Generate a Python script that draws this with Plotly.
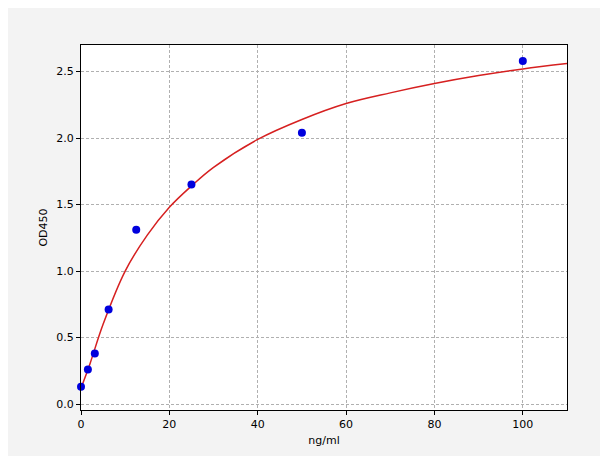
import plotly.graph_objects as go

# standard points
conc = [0, 1.56, 3.125, 6.25, 12.5, 25, 50, 100]
od = [0.13, 0.26, 0.38, 0.71, 1.31, 1.65, 2.04, 2.58]

# fitted curve
curve_x = [0, 2, 5, 10, 15, 20, 25, 30, 40, 50, 60, 70, 80, 90, 100, 110]
curve_y = [0.12, 0.30, 0.60, 1.00, 1.27, 1.48, 1.64, 1.78, 1.99, 2.14, 2.26, 2.34, 2.41, 2.47, 2.52, 2.56]

fig = go.Figure()
fig.add_trace(go.Scatter(
    x=curve_x, y=curve_y, mode='lines',
    line=dict(color='#d62020', width=1.5, shape='spline', smoothing=1.0),
))
fig.add_trace(go.Scatter(
    x=conc, y=od, mode='markers',
    marker=dict(color='#0000dd', size=8), cliponaxis=False,
))

axis = dict(
    showline=True, linecolor='black', linewidth=1, mirror=True,
    showgrid=True, gridcolor='#b0b0b0', griddash='3px,2px', gridwidth=1,
    ticks='outside', ticklen=4, tickcolor='black', zeroline=False,
    tickfont=dict(size=11, color='black'), automargin=False,
)
fig.update_layout(
    width=608, height=456,
    paper_bgcolor='#f3f3f3', plot_bgcolor='white',
    margin=dict(l=73, r=49, t=37, b=54),
    showlegend=False,
    font=dict(family='DejaVu Sans', color='black'),
    xaxis=dict(axis, range=[0, 110], dtick=20,
               title=dict(text='ng/ml', font=dict(size=11), standoff=6)),
    yaxis=dict(axis, range=[-0.045, 2.7], dtick=0.5, tickformat='.1f',
               title=dict(text='OD450', font=dict(size=11), standoff=6)),
)
fig.write_html("out.html")
